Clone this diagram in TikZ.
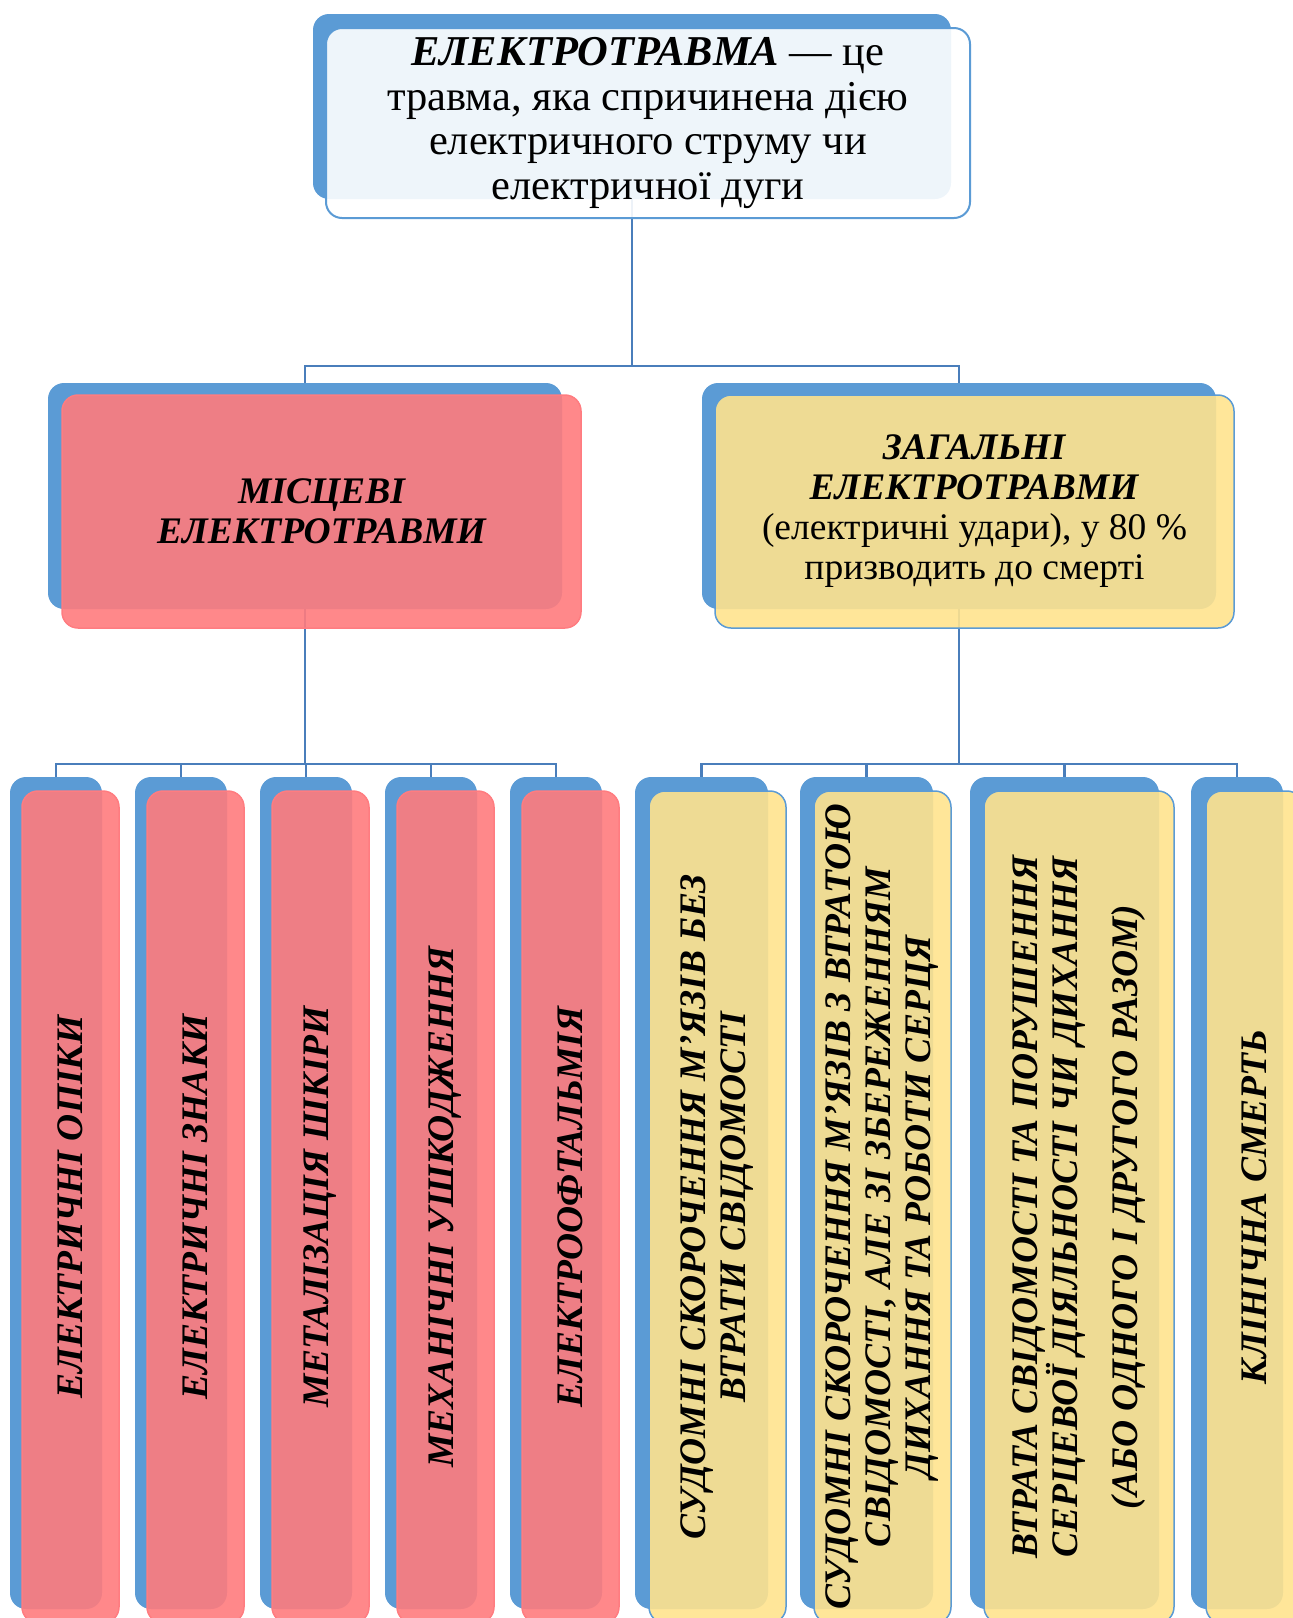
\documentclass[tikz,border=0pt]{standalone}
\usepackage{fontspec}
\setmainfont{Liberation Serif}
\usepackage{xcolor}
\usetikzlibrary{positioning, backgrounds}

\definecolor{backblue}{HTML}{5B9BD5}
\definecolor{linkblue}{HTML}{4A7EBB}
\definecolor{pinkfill}{RGB}{255,123,125}
\definecolor{pinkline}{HTML}{FF7C80}
\definecolor{yellowfill}{RGB}{255,227,142}

\begin{document}
\begin{tikzpicture}[
    x=1pt, y=-1pt,
    every node/.style={font=\fontsize{37.5}{40}\selectfont},
    back/.style={fill=backblue, rounded corners=16pt, inner sep=0pt},
    front/.style={rounded corners=16pt, fill opacity=0.9, text opacity=1,
                  inner sep=0pt, align=center},
    topbox/.style={front, fill=white, draw=backblue, line width=2pt},
    pinkbox/.style={front, fill=pinkfill, draw=pinkline, line width=1.5pt},
    yellowbox/.style={front, fill=yellowfill, draw=backblue, line width=1.5pt},
    vbox/.style={rotate=90, minimum width=832pt},
    title/.style={font=\fontsize{37.5}{40}\selectfont\bfseries\itshape},
    link/.style={draw=linkblue, line width=2.4pt},
]
    \useasboundingbox (0,0) rectangle (1293,1618);
    \clip (0,0) rectangle (1293,1618);

    % Root
    \node[back, minimum width=638pt, minimum height=185pt] (topB) at (632,106.5) {};
    \node[topbox, minimum width=644pt, minimum height=190pt,
          font=\fontsize{42.5}{44.5}\selectfont] (top) at (648,123)
        {\textbf{\textit{ЕЛЕКТРОТРАВМА}} — це\\
         травма, яка спричинена дією\\
         електричного струму чи\\
         електричної дуги};

    % Two kinds
    \node[back, minimum width=514pt, minimum height=226pt] (locB) at (305,496) {};
    \node[pinkbox, title, minimum width=519pt, minimum height=233pt] (loc) at (321.5,511.5)
        {МІСЦЕВІ\\ЕЛЕКТРОТРАВМИ};
    \node[back, minimum width=514pt, minimum height=226pt] (genB) at (959,496) {};
    \node[yellowbox, minimum width=519pt, minimum height=233pt] (gen) at (974.5,511.5)
        {\textbf{\textit{ЗАГАЛЬНІ}}\\
         \textbf{\textit{ЕЛЕКТРОТРАВМИ}}\\
         (електричні удари), у 80~\%\\
         призводить до смерті};

    % Local injuries (left row)
    \node[back, vbox, minimum height=92pt] (l1B) at (56,1193) {};
    \node[pinkbox, vbox, title, minimum height=97pt] (l1) at (70.5,1207) {ЕЛЕКТРИЧНІ ОПІКИ};
    \node[back, vbox, minimum height=92pt] (l2B) at (181,1193) {};
    \node[pinkbox, vbox, title, minimum height=97pt] (l2) at (195.5,1207) {ЕЛЕКТРИЧНІ ЗНАКИ};
    \node[back, vbox, minimum height=92pt] (l3B) at (306,1193) {};
    \node[pinkbox, vbox, title, minimum height=97pt] (l3) at (320.5,1207) {МЕТАЛІЗАЦІЯ ШКІРИ};
    \node[back, vbox, minimum height=92pt] (l4B) at (431,1193) {};
    \node[pinkbox, vbox, title, minimum height=97pt] (l4) at (445.5,1207) {МЕХАНІЧНІ УШКОДЖЕННЯ};
    \node[back, vbox, minimum height=92pt] (l5B) at (556,1193) {};
    \node[pinkbox, vbox, title, minimum height=97pt] (l5) at (570.5,1207) {ЕЛЕКТРООФТАЛЬМІЯ};

    % General injuries (right row)
    \node[back, vbox, minimum height=133pt] (g1B) at (701.5,1193) {};
    \node[yellowbox, vbox, title, minimum height=137pt] (g1) at (717.5,1207)
        {СУДОМНІ СКОРОЧЕННЯ М’ЯЗІВ БЕЗ\\ВТРАТИ СВІДОМОСТІ};
    \node[back, vbox, minimum height=133pt] (g2B) at (866.5,1193) {};
    \node[yellowbox, vbox, title, minimum height=137pt] (g2) at (882.5,1207)
        {СУДОМНІ СКОРОЧЕННЯ М’ЯЗІВ З ВТРАТОЮ\\СВІДОМОСТІ, АЛЕ ЗІ ЗБЕРЕЖЕННЯМ\\ДИХАННЯ ТА РОБОТИ СЕРЦЯ};
    \node[back, vbox, minimum height=189pt] (g3B) at (1064.5,1193) {};
    \node[yellowbox, vbox, title, minimum height=190pt] (g3) at (1079,1207)
        {ВТРАТА СВІДОМОСТІ ТА ПОРУШЕННЯ\\СЕРЦЕВОЇ ДІЯЛЬНОСТІ ЧИ ДИХАННЯ\\[20pt](АБО ОДНОГО І ДРУГОГО РАЗОМ)};
    \node[back, vbox, minimum height=92pt] (g4B) at (1237,1193) {};
    \node[yellowbox, vbox, title, minimum height=97pt] (g4) at (1254.5,1207) {КЛІНІЧНА СМЕРТЬ};

    % Connectors
    \begin{scope}[on background layer]
        \coordinate (busA) at (632,366);
        \coordinate (busL) at (305,764);
        \coordinate (busR) at (959,764);
        \draw[link] (topB.south) -- (busA);
        \draw[link] (locB.north) |- (busA) -| (genB.north);
        \draw[link] (locB.south) -- (busL);
        \draw[link] (l1B.west) |- (busL) -| (l5B.west);
        \draw[link] (l2B.west) -- (l2B.west |- busL);
        \draw[link] (l3B.west) -- (l3B.west |- busL);
        \draw[link] (l4B.west) -- (l4B.west |- busL);
        \draw[link] (genB.south) -- (busR);
        \draw[link] (g1B.west) |- (busR) -| (g4B.west);
        \draw[link] (g2B.west) -- (g2B.west |- busR);
        \draw[link] (g3B.west) -- (g3B.west |- busR);
    \end{scope}
\end{tikzpicture}
\end{document}
